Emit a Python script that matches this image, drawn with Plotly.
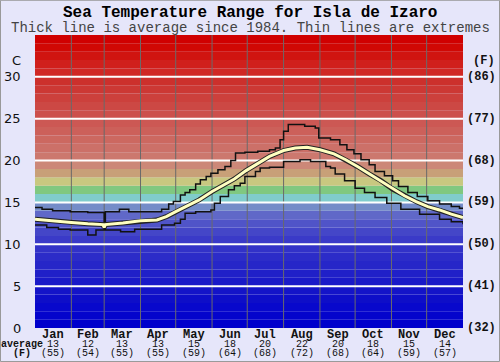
import plotly.graph_objects as go

# ---------------- data ----------------
months = ["Jan", "Feb", "Mar", "Apr", "May", "Jun", "Jul", "Aug", "Sep", "Oct", "Nov", "Dec"]
month_start_day = [0, 31, 59, 90, 120, 151, 181, 212, 243, 273, 304, 334, 365]
month_avg_c = [13, 12, 13, 13, 15, 18, 20, 22, 20, 18, 15, 14]
month_avg_f = [55, 54, 55, 55, 59, 64, 68, 72, 68, 64, 59, 57]

c_ticks = [0, 5, 10, 15, 20, 25, 30]
f_ticks = [32, 41, 50, 59, 68, 77, 86]

avg_days = [0, 10, 20, 31, 45, 58, 59, 60, 75, 90, 104, 112, 120, 130, 140, 151, 160, 170, 180, 190,
            200, 212, 222, 232, 243, 255, 265, 275, 285, 295, 305, 315, 325, 335, 345, 355, 365]
avg_vals = [13.0, 12.85, 12.75, 12.6, 12.45, 12.35, 12.0, 12.35, 12.55, 12.8, 12.9, 13.3, 13.9, 14.6,
            15.3, 16.3, 17.0, 17.8, 18.8, 19.7, 20.5, 21.2, 21.5, 21.6, 21.3, 20.8, 20.1, 19.3, 18.4,
            17.6, 16.6, 15.8, 15.1, 14.5, 14.1, 13.6, 13.2]

max_days = [0, 6, 15, 30, 45, 59, 60, 72, 80, 108, 114, 118, 124, 128, 132, 137, 141, 146, 150, 156,
            162, 167, 171, 179, 190, 200, 205, 209, 212, 216, 230, 239, 242, 252, 260, 266, 272, 278,
            285, 290, 298, 305, 310, 318, 326, 335, 345, 355, 362, 365]
max_vals = [14.4, 14.2, 14.0, 13.9, 13.8, 12.1, 13.9, 14.2, 13.9, 14.2, 14.8, 15.1, 15.9, 16.2, 16.5,
            17.2, 17.7, 18.1, 18.5, 18.9, 19.3, 20.0, 20.9, 21.0, 21.1, 21.3, 21.5, 22.5, 23.5, 24.3,
            24.1, 23.9, 22.7, 22.5, 21.9, 21.3, 20.8, 20.1, 19.5, 18.7, 18.2, 17.6, 16.9, 16.2, 15.7,
            15.2, 14.8, 14.5, 14.3, 14.3]

min_days = [0, 10, 20, 30, 45, 52, 59, 60, 73, 85, 108, 119, 124, 128, 137, 150, 153, 158, 165, 170,
            175, 179, 188, 192, 200, 212, 226, 235, 248, 252, 256, 264, 273, 281, 290, 300, 312, 328,
            345, 355, 365]
min_vals = [12.3, 12.0, 11.8, 11.7, 11.1, 11.7, 11.9, 11.7, 11.5, 11.8, 12.3, 12.5, 13.0, 13.7, 13.9,
            14.1, 14.9, 15.7, 16.5, 17.0, 17.3, 18.1, 18.7, 19.1, 19.2, 19.9, 20.1, 19.9, 19.3, 19.1,
            18.4, 17.6, 16.7, 16.2, 15.6, 14.9, 14.2, 13.6, 13.0, 12.7, 12.4]

# background colour bands, one per degree C starting at 0
band_colors = [
    "rgb(0,0,204)", "rgb(4,4,204)", "rgb(8,8,204)", "rgb(14,14,200)", "rgb(20,20,200)",
    "rgb(26,26,200)", "rgb(32,32,200)", "rgb(38,38,200)", "rgb(44,44,200)", "rgb(50,50,200)",
    "rgb(58,58,200)", "rgb(68,70,200)", "rgb(80,84,200)", "rgb(96,104,200)", "rgb(116,140,200)",
    "rgb(128,204,204)", "rgb(128,200,128)", "rgb(200,200,128)", "rgb(200,160,120)", "rgb(204,136,120)",
    "rgb(204,120,110)", "rgb(204,112,104)", "rgb(204,104,96)", "rgb(204,96,90)", "rgb(204,88,84)",
    "rgb(204,80,76)", "rgb(204,72,68)", "rgb(204,64,60)", "rgb(204,56,52)", "rgb(204,48,44)",
    "rgb(208,40,36)", "rgb(208,32,28)", "rgb(208,20,16)", "rgb(208,8,4)", "rgb(208,0,0)",
]

BG = "#e6e6fa"
MONO = "Liberation Mono, Courier New, monospace"

fig = go.Figure()

shapes = []
for i, col in enumerate(band_colors):
    shapes.append(dict(type="rect", xref="x", yref="y", x0=0, x1=365, y0=i, y1=i + 1,
                       fillcolor=col, line=dict(width=0), layer="below"))
for d in month_start_day[1:-1]:
    shapes.append(dict(type="line", xref="x", yref="y", x0=d, x1=d, y0=0, y1=35,
                       line=dict(color="#6a6a6a", width=1), layer="below"))
for t in c_ticks[1:]:
    shapes.append(dict(type="line", xref="x", yref="y", x0=0, x1=365, y0=t, y1=t,
                       line=dict(color="white", width=2), layer="below"))
# outer frame
shapes.append(dict(type="rect", xref="paper", yref="paper", x0=-0.0806, x1=1.0853,
                   y0=-0.1144, y1=1.1185, line=dict(color="#999999", width=1)))

# lines
fig.add_trace(go.Scatter(x=max_days, y=max_vals, mode="lines", line=dict(color="#111", width=1.5, shape="hv"),
                         hoverinfo="skip"))
fig.add_trace(go.Scatter(x=min_days, y=min_vals, mode="lines", line=dict(color="#111", width=1.5, shape="hv"),
                         hoverinfo="skip"))
fig.add_trace(go.Scatter(x=avg_days, y=avg_vals, mode="lines", line=dict(color="#222", width=5),
                         hoverinfo="skip"))
fig.add_trace(go.Scatter(x=avg_days, y=avg_vals, mode="lines", line=dict(color="#ffffc0", width=3),
                         hoverinfo="skip"))

ann = []
ann.append(dict(text="<b>Sea Temperature Range for Isla de Izaro</b>", xref="paper", yref="paper",
                x=0.5, y=1, xshift=1, yshift=22, showarrow=False, xanchor="center", yanchor="middle",
                font=dict(family=MONO, size=16, color="#000")))
ann.append(dict(text="Thick line is average since 1984. Thin lines are extremes", xref="paper", yref="paper",
                x=0.5, y=1, xshift=1, yshift=7, showarrow=False, xanchor="center", yanchor="middle",
                font=dict(family=MONO, size=14, color="#444")))

# left C labels
for t in c_ticks:
    ann.append(dict(text=str(t), xref="paper", yref="y", x=0, y=t, xshift=-12, showarrow=False,
                    xanchor="right", yanchor="middle", font=dict(family="DejaVu Sans", size=13, color="#111")))
ann.append(dict(text="C", xref="paper", yref="y", x=0, y=30, xshift=-12, yshift=16, showarrow=False,
                xanchor="right", yanchor="middle", font=dict(family="DejaVu Sans", size=13, color="#111")))
# right F labels
for t, f in zip(c_ticks, f_ticks):
    ann.append(dict(text="<b>(%d)</b>" % f, xref="paper", yref="y", x=1, y=t, xshift=2, showarrow=False,
                    xanchor="left", yanchor="middle", font=dict(family=MONO, size=12, color="#111")))
ann.append(dict(text="<b>(F)</b>", xref="paper", yref="y", x=1, y=30, xshift=8, yshift=16, showarrow=False,
                xanchor="left", yanchor="middle", font=dict(family=MONO, size=12, color="#111")))

# month labels
for i, m in enumerate(months):
    mid = (month_start_day[i] + month_start_day[i + 1]) / 2
    ann.append(dict(text="<b>%s</b>" % m, xref="x", yref="paper", x=mid, y=0, yshift=-7, showarrow=False,
                    xanchor="center", yanchor="middle", font=dict(family=MONO, size=12, color="#111")))
    ann.append(dict(text=str(month_avg_c[i]), xref="x", yref="paper", x=mid, y=0, yshift=-16, showarrow=False,
                    xanchor="center", yanchor="middle", font=dict(family=MONO, size=10, color="#111")))
    ann.append(dict(text="(%d)" % month_avg_f[i], xref="x", yref="paper", x=mid, y=0, yshift=-25,
                    showarrow=False, xanchor="center", yanchor="middle",
                    font=dict(family=MONO, size=10, color="#111")))
ann.append(dict(text="<b>average</b>", xref="paper", yref="paper", x=0, y=0, xshift=-13, yshift=-16,
                showarrow=False, xanchor="center", yanchor="middle", font=dict(family=MONO, size=10, color="#111")))
ann.append(dict(text="<b>(F)</b>", xref="paper", yref="paper", x=0, y=0, xshift=-13, yshift=-25,
                showarrow=False, xanchor="center", yanchor="middle", font=dict(family=MONO, size=10, color="#111")))

fig.update_layout(
    width=500, height=362,
    margin=dict(l=35, r=37, t=35, b=34),
    paper_bgcolor=BG, plot_bgcolor=BG,
    showlegend=False,
    shapes=shapes,
    annotations=ann,
    xaxis=dict(range=[0, 365], showgrid=False, zeroline=False, showticklabels=False, ticks="",
               fixedrange=True),
    yaxis=dict(range=[0, 35], showgrid=False, zeroline=False, showticklabels=False, ticks="",
               fixedrange=True),
)

fig.write_html("out.html", config={"displayModeBar": False},
               post_script="document.body.style.margin='0';document.body.style.padding='0';"
                           "document.body.style.overflow='hidden';")
